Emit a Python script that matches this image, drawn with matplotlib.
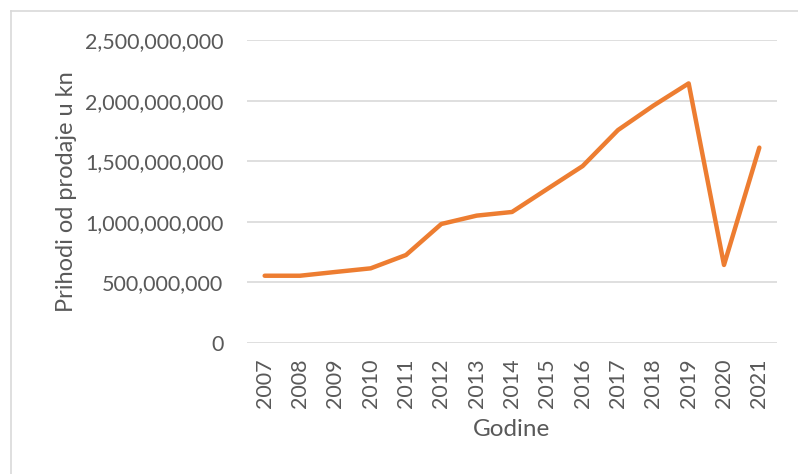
import matplotlib.pyplot as plt
from matplotlib.lines import Line2D
from matplotlib.ticker import FuncFormatter

# Data
years = ["2007", "2008", "2009", "2010", "2011", "2012", "2013", "2014",
         "2015", "2016", "2017", "2018", "2019", "2020", "2021"]
revenue = [555e6, 555e6, 586e6, 616e6, 726e6, 982e6, 1051e6, 1081e6,
           1271e6, 1460e6, 1757e6, 1958e6, 2142e6, 644e6, 1612e6]
y_ticks = [0, 500e6, 1000e6, 1500e6, 2000e6, 2500e6]

text_color = "#595959"
grid_color = "#D9D9D9"
line_color = "#ED7D31"

plt.rcParams['font.family'] = ['Lato', 'DejaVu Sans']

W, H = 798, 474
fig = plt.figure(figsize=(W / 100, H / 100), dpi=100)
ax = fig.add_axes([247 / W, (H - 343) / H, 530 / W, 303 / H])

x = list(range(len(years)))
ax.plot(x, revenue, color=line_color, linewidth=3.2,
        solid_capstyle='round', solid_joinstyle='round', zorder=3)

ax.set_xlim(-0.5, len(years) - 0.5)
ax.set_ylim(0, 2500e6)
ax.set_yticks(y_ticks)
ax.yaxis.set_major_formatter(FuncFormatter(lambda v, p: f"{int(v):,}"))
ax.set_xticks(x)
ax.set_xticklabels(years, rotation=90)

ax.grid(axis='y', color=grid_color, linewidth=1.2)
ax.set_axisbelow(True)
for s in ax.spines.values():
    s.set_visible(False)
ax.tick_params(axis='both', length=0, labelsize=15.5, colors=text_color)
ax.tick_params(axis='y', pad=17)
ax.tick_params(axis='x', pad=11)

ax.set_ylabel("Prihodi od prodaje u kn", fontsize=17, color=text_color, labelpad=6)
ax.set_xlabel("Godine", fontsize=17.5, color=text_color, labelpad=8)

# light chart frame (extends past the right and bottom edges)
fig.add_artist(Line2D([11 / W, 11 / W], [0, 1 - 11 / H], transform=fig.transFigure,
                      color=grid_color, linewidth=1.2))
fig.add_artist(Line2D([11 / W, 1], [1 - 11 / H, 1 - 11 / H], transform=fig.transFigure,
                      color=grid_color, linewidth=1.2))

fig.savefig("out.png", dpi=100)
